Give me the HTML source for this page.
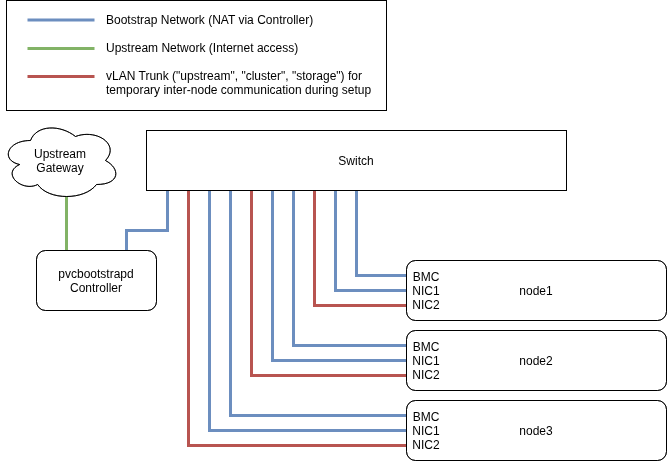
<!DOCTYPE html>
<html><head><meta charset="utf-8"><title>PVC Bootstrap Network Diagram</title>
<style>
html,body{margin:0;padding:0;background:#fff;}
svg{display:block;will-change:transform;}
text{font-family:"Liberation Sans",Helvetica,Arial,sans-serif;font-size:12px;fill:#000;}
</style></head><body>
<svg width="667" height="461" viewBox="0 0 667 461">
<rect x="0" y="0" width="667" height="461" fill="#fff"/>
<g transform="translate(0.5,0.5)">

<rect x="6" y="0" width="380" height="110" fill="#fff" stroke="#000"/>
<path d="M27 19.5H94" fill="none" stroke="#6c8ebf" stroke-width="3"/>
<path d="M27 48H94" fill="none" stroke="#82b366" stroke-width="3"/>
<path d="M27 76H94" fill="none" stroke="#b85450" stroke-width="3"/>
<path d="M66 196V250" fill="none" stroke="#82b366" stroke-width="3"/>
<path d="M167 190V230H126V250" fill="none" stroke="#6c8ebf" stroke-width="3"/>
<path d="M188 190V445H406" fill="none" stroke="#b85450" stroke-width="3"/>
<path d="M209 190V430H406" fill="none" stroke="#6c8ebf" stroke-width="3"/>
<path d="M230 190V415H406" fill="none" stroke="#6c8ebf" stroke-width="3"/>
<path d="M251 190V375H406" fill="none" stroke="#b85450" stroke-width="3"/>
<path d="M272 190V360H406" fill="none" stroke="#6c8ebf" stroke-width="3"/>
<path d="M293 190V345H406" fill="none" stroke="#6c8ebf" stroke-width="3"/>
<path d="M314 190V305H406" fill="none" stroke="#b85450" stroke-width="3"/>
<path d="M335 190V290H406" fill="none" stroke="#6c8ebf" stroke-width="3"/>
<path d="M356 190V275H406" fill="none" stroke="#6c8ebf" stroke-width="3"/>
<path d="M30.00 140.00C6.00 140.00 0.00 160.00 19.20 164.00C0.00 172.80 21.60 192.00 37.20 184.00C48.00 200.00 84.00 200.00 96.00 184.00C120.00 184.00 120.00 168.00 105.00 160.00C120.00 144.00 96.00 128.00 75.00 136.00C60.00 124.00 36.00 124.00 30.00 140.00Z" fill="#fff" stroke="#000"/>
<path d="M30.00 140.00C6.00 140.00 0.00 160.00 19.20 164.00C0.00 172.80 21.60 192.00 37.20 184.00C48.00 200.00 84.00 200.00 96.00 184.00C120.00 184.00 120.00 168.00 105.00 160.00C120.00 144.00 96.00 128.00 75.00 136.00C60.00 124.00 36.00 124.00 30.00 140.00Z" fill="none" stroke="#000" stroke-opacity="0.55"/>
<rect x="146" y="130" width="420" height="60" fill="#fff" stroke="#000"/>
<rect x="36" y="250" width="120" height="60" rx="9" ry="9" fill="#fff" stroke="#000"/>
<rect x="36" y="250" width="120" height="60" rx="9" ry="9" fill="none" stroke="#000" stroke-opacity="0.55"/>
<rect x="406" y="260" width="260" height="60" rx="9" ry="9" fill="#fff" stroke="#000"/>
<rect x="406" y="260" width="260" height="60" rx="9" ry="9" fill="none" stroke="#000" stroke-opacity="0.55"/>
<rect x="406" y="330" width="260" height="60" rx="9" ry="9" fill="#fff" stroke="#000"/>
<rect x="406" y="330" width="260" height="60" rx="9" ry="9" fill="none" stroke="#000" stroke-opacity="0.55"/>
<rect x="406" y="400" width="260" height="60" rx="9" ry="9" fill="#fff" stroke="#000"/>
<rect x="406" y="400" width="260" height="60" rx="9" ry="9" fill="none" stroke="#000" stroke-opacity="0.55"/>
</g>
<text x="106" y="24" letter-spacing="0.007">Bootstrap Network (NAT via Controller)</text>
<text x="106" y="52" letter-spacing="0.007">Upstream Network (Internet access)</text>
<text x="106" y="80" letter-spacing="0.007">vLAN Trunk ("upstream", "cluster", "storage") for</text>
<text x="106" y="94" letter-spacing="0.007">temporary inter-node communication during setup</text>
<text x="60" y="158" text-anchor="middle">Upstream</text>
<text x="60" y="172" text-anchor="middle">Gateway</text>
<text x="356" y="165" text-anchor="middle">Switch</text>
<text x="96" y="278" text-anchor="middle">pvcbootstrapd</text>
<text x="96" y="292" text-anchor="middle">Controller</text>
<text x="536" y="295" text-anchor="middle">node1</text>
<text x="426" y="281" text-anchor="middle">BMC</text>
<text x="426" y="295" text-anchor="middle">NIC1</text>
<text x="426" y="309" text-anchor="middle">NIC2</text>
<text x="536" y="365" text-anchor="middle">node2</text>
<text x="426" y="351" text-anchor="middle">BMC</text>
<text x="426" y="365" text-anchor="middle">NIC1</text>
<text x="426" y="379" text-anchor="middle">NIC2</text>
<text x="536" y="435" text-anchor="middle">node3</text>
<text x="426" y="421" text-anchor="middle">BMC</text>
<text x="426" y="435" text-anchor="middle">NIC1</text>
<text x="426" y="449" text-anchor="middle">NIC2</text>
</svg></body></html>
